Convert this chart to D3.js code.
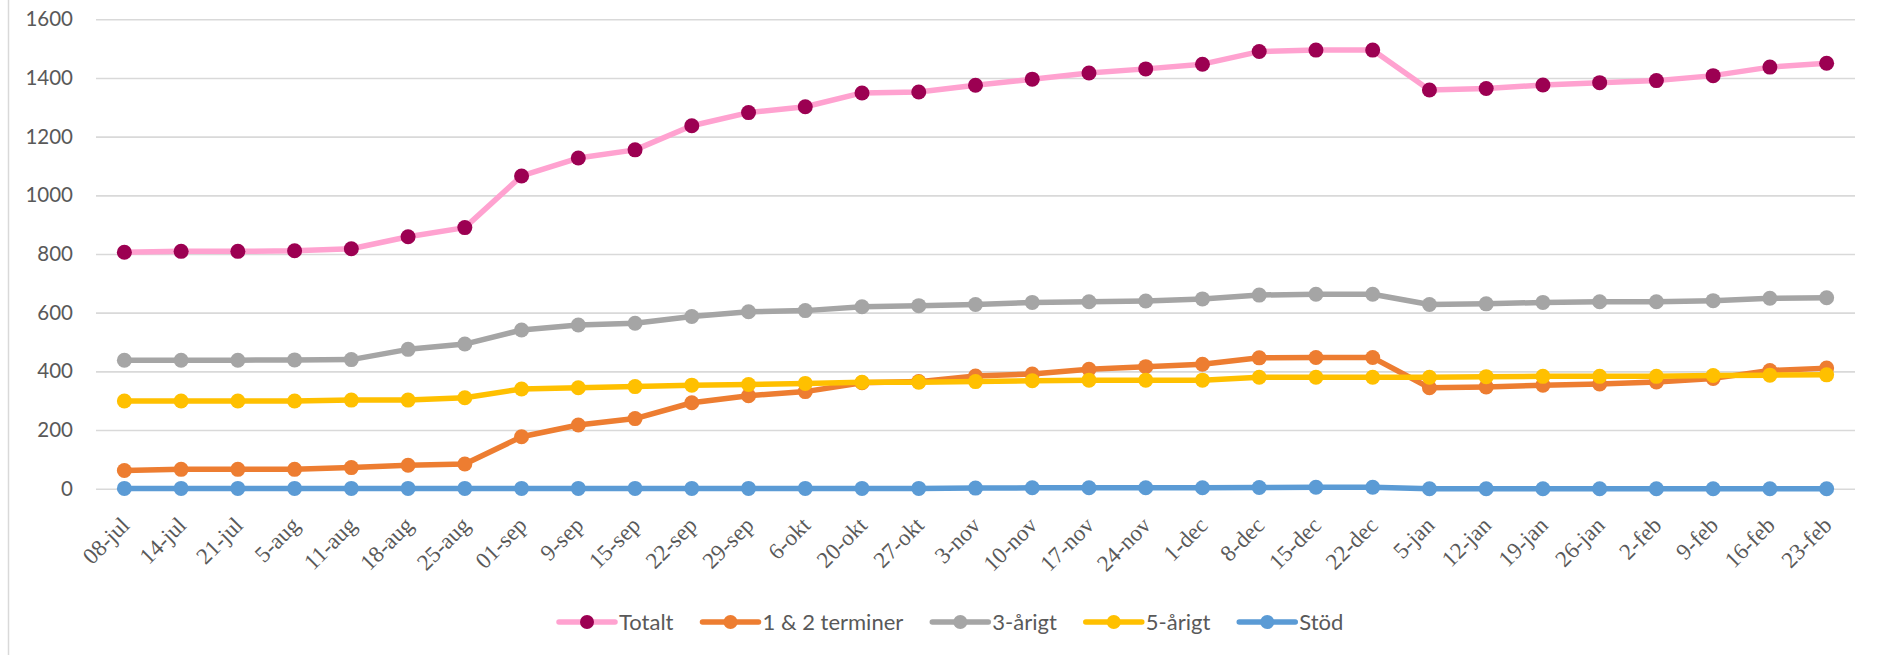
<!DOCTYPE html>
<html>
<head>
<meta charset="utf-8">
<script src="https://cdn.jsdelivr.net/npm/d3@7"></script>
<style>
  body { margin: 0; background: #fff; }
  svg { display: block; }
</style>
</head>
<body>
<div id="chart"></div>
<script>
var width = 1881,
    height = 655,
    margin = {top: 19.3, left: 96, right: 26, bottom: 166.3};

var weeks = ["08-jul", "14-jul", "21-jul", "5-aug", "11-aug", "18-aug", "25-aug", "01-sep", "9-sep", "15-sep",
             "22-sep", "29-sep", "6-okt", "20-okt", "27-okt", "3-nov", "10-nov", "17-nov", "24-nov", "1-dec",
             "8-dec", "15-dec", "22-dec", "5-jan", "12-jan", "19-jan", "26-jan", "2-feb", "9-feb", "16-feb", "23-feb"];

var totalt   = [806, 809, 809, 811, 818, 859, 890, 1066, 1127, 1155, 1237, 1282, 1302, 1349, 1352, 1375,
                1396, 1417, 1431, 1447, 1490, 1495, 1495, 1359, 1364, 1376, 1384, 1391, 1408, 1437, 1450];
var terminer = [62, 66, 66, 66, 72, 80, 84, 177, 217, 239, 293, 317, 331, 361, 365, 384,
                391, 407, 416, 424, 446, 447, 447, 344, 347, 353, 357, 364, 376, 403, 411];
var trearigt = [438, 438, 438, 439, 440, 475, 493, 541, 558, 564, 587, 603, 607, 620, 624, 628,
                635, 637, 640, 647, 660, 663, 663, 628, 630, 635, 637, 637, 641, 649, 651];
var femarigt = [299, 299, 299, 299, 302, 302, 310, 340, 344, 348, 353, 355, 359, 363, 363, 365,
                368, 370, 370, 370, 380, 380, 380, 380, 382, 383, 383, 383, 386, 387, 388];
var stod     = [1, 1, 1, 1, 1, 1, 1, 1, 1, 1, 1, 1, 1, 1, 1, 2,
                3, 3, 3, 3, 4, 5, 5, 0, 0, 0, 0, 0, 0, 0, 0];

var yTicks = [0, 200, 400, 600, 800, 1000, 1200, 1400, 1600];

var series = [
  {name: "Totalt",         values: totalt,   line: "#ffa2d0", dot: "#9c0052"},
  {name: "1 & 2 terminer", values: terminer, line: "#ed7d31", dot: "#ed7d31"},
  {name: "3-årigt",        values: trearigt, line: "#a5a5a5", dot: "#a5a5a5"},
  {name: "5-årigt",        values: femarigt, line: "#ffc000", dot: "#ffc000"},
  {name: "Stöd",           values: stod,     line: "#5b9bd5", dot: "#5b9bd5"}
];

var svg = d3.select("#chart")
  .append("svg")
  .attr("width", width)
  .attr("height", height);

// chart border on the left
svg.append("line")
  .attr("x1", 8.5).attr("x2", 8.5)
  .attr("y1", 0).attr("y2", height)
  .attr("stroke", "#d9d9d9")
  .attr("stroke-width", 1.5);

var x = d3.scalePoint()
  .domain(weeks)
  .range([margin.left, width - margin.right])
  .padding(0.5);

var y = d3.scaleLinear()
  .domain([0, 1600])
  .range([height - margin.bottom, margin.top]);

// gridlines + y labels
var yAxis = svg.append("g")
  .attr("transform", `translate(${margin.left},0)`)
  .call(d3.axisLeft(y).tickValues(yTicks).tickFormat(d3.format("d"))
    .tickSize(-(width - margin.left - margin.right)).tickPadding(23));
yAxis.attr("font-family", "Lato, 'Open Sans', sans-serif")
  .attr("font-size", 20.5);
yAxis.select(".domain").remove();
yAxis.selectAll(".tick line").attr("stroke", "#d9d9d9").attr("stroke-width", 1.6);
yAxis.selectAll(".tick text").attr("fill", "#595959");

// x labels, rotated
var xAxis = svg.append("g")
  .attr("transform", `translate(0,${height - margin.bottom})`)
  .call(d3.axisBottom(x).tickSize(0));
xAxis.attr("font-family", "'Liberation Serif', 'Times New Roman', serif")
  .attr("font-size", 23);
xAxis.select(".domain").remove();
xAxis.selectAll(".tick text")
  .attr("fill", "#595959")
  .attr("text-anchor", "end")
  .attr("dy", 0)
  .attr("y", 0)
  .attr("transform", "translate(6,38) rotate(-45)");

var line = d3.line()
  .x(function(d, i) { return x(weeks[i]); })
  .y(function(d) { return y(d); });

series.forEach(function(s) {
  var g = svg.append("g");
  g.append("path")
    .datum(s.values)
    .attr("fill", "none")
    .attr("stroke", s.line)
    .attr("stroke-width", 5.5)
    .attr("stroke-linejoin", "round")
    .attr("d", line);
  g.selectAll("circle")
    .data(s.values)
    .enter()
    .append("circle")
    .attr("cx", function(d, i) { return x(weeks[i]); })
    .attr("cy", function(d) { return y(d); })
    .attr("r", 7.5)
    .attr("fill", s.dot);
});

// legend
var legend = svg.append("g").attr("transform", "translate(559,622)");
var lx = 0;
series.forEach(function(s) {
  var item = legend.append("g").attr("transform", `translate(${lx},0)`);
  item.append("line")
    .attr("x1", 0).attr("x2", 56)
    .attr("stroke", s.line)
    .attr("stroke-width", 5.5)
    .attr("stroke-linecap", "round");
  item.append("circle")
    .attr("cx", 28).attr("r", 7)
    .attr("fill", s.dot);
  var t = item.append("text")
    .attr("x", 60)
    .attr("dy", "0.36em")
    .attr("fill", "#595959")
    .style("font-family", "Lato, 'Open Sans', sans-serif")
    .style("font-size", "22px")
    .text(s.name);
  lx += 60 + t.node().getComputedTextLength() + 29;
});
</script>
</body>
</html>
